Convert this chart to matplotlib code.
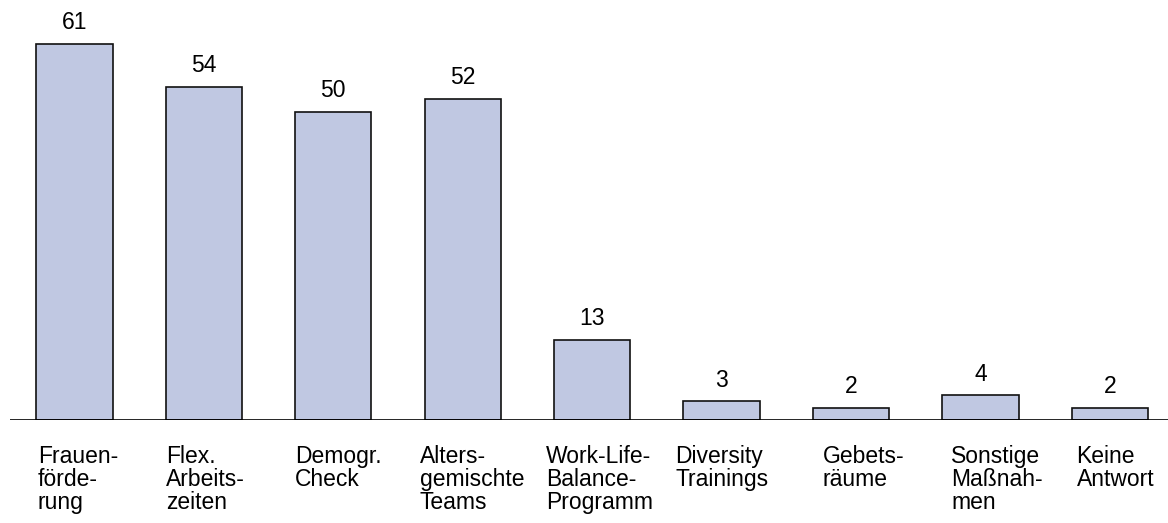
import matplotlib
matplotlib.use("Agg")
import matplotlib.pyplot as plt
import numpy as np

#data
labels = ["Frauen-\nförde-\nrung", "Flex.\nArbeits-\nzeiten", "Demogr.\nCheck",
          "Alters-\ngemischte\nTeams", "Work-Life-\nBalance-\nProgramm", "Diversity\nTrainings",
          "Gebets-\nräume", "Sonstige\nMaßnah-\nmen", "Keine\nAntwort"]
values = [61, 54, 50, 52, 13, 3, 2, 4, 2]

#label shift from bar left edge, in pixels (layout only)
label_shift = [1.5, 0, 0, -5, -8, -8, 10, 9, 5]

plt.rcParams['font.family'] = ['Liberation Sans', 'DejaVu Sans']

fig = plt.figure(figsize=(11.68, 5.23), dpi=100)
ax = fig.add_axes([10/1168, 103/523, 1 - 10/1168, 420/523])

x = np.arange(len(values))
w = 0.59
ax.bar(x, values, width=w, color="#c0c8e2", edgecolor="#111111", linewidth=1.2, zorder=2)

for xi, v, lab, sh in zip(x, values, labels, label_shift):
    ax.text(xi, v + 2.4, str(v), ha="center", va="baseline", fontsize=16.5)
    ax.text(xi - w/2 + sh/129.4, -4.1, lab, ha="left", va="top", fontsize=16.5,
            linespacing=0.99, clip_on=False)

ax.set_xlim(-0.498, 8.45)
ax.set_ylim(0, 68.1)
ax.axhline(0, color="black", linewidth=1.2, zorder=3)
for s in ax.spines.values():
    s.set_visible(False)
ax.set_xticks([])
ax.set_yticks([])

fig.savefig("out.png", dpi=100)
